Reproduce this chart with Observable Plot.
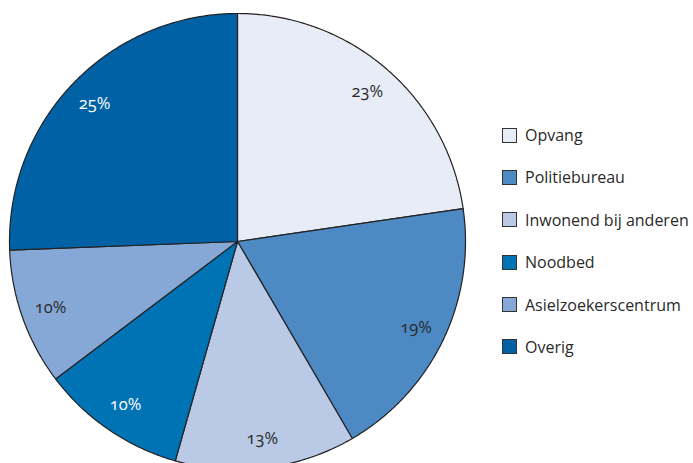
<!DOCTYPE html>
<html><head><meta charset="utf-8">
<script src="https://cdn.jsdelivr.net/npm/d3@7"></script>
<script src="https://cdn.jsdelivr.net/npm/@observablehq/plot@0.6"></script>
<style>
body{margin:0;background:#fff;font-family:"Open Sans",sans-serif;}
#wrap{position:relative;width:693px;height:463px;overflow:hidden;}
#wrap svg text{font-variant-numeric:oldstyle-nums;}
#legend{position:absolute;left:502px;top:125px;}
.item{display:flex;align-items:center;height:20px;margin-bottom:22.4px;font-size:16px;color:#2a2a2a;white-space:nowrap;}
.sw{width:15px;height:15px;border:1px solid #333;box-sizing:border-box;margin-right:8px;flex:none;}
</style></head>
<body><div id="wrap"><div id="legend"></div></div>
<script>
const categories = ["Opvang","Politiebureau","Inwonend bij anderen","Noodbed","Asielzoekerscentrum","Overig"];
const values = [22.7, 18.9, 12.8, 10.3, 9.7, 25.6];
const labels = ["23%","19%","13%","10%","10%","25%"];
const colors = ["#e8ecf7","#4d8ac4","#b9c9e6","#0073b5","#85a8d6","#0061a5"];
const lightLabel = [false,false,false,true,false,true];

const arcs = d3.pie().sort(null).value(d => d)(values);

const pts = [];
arcs.forEach((a, i) => {
  const cat = categories[i];
  pts.push({cat, x: 0, y: 0});
  const n = Math.max(2, Math.ceil((a.endAngle - a.startAngle) / (Math.PI / 360)));
  for (let k = 0; k <= n; k++) {
    const t = a.startAngle + (a.endAngle - a.startAngle) * k / n;
    pts.push({cat, x: Math.sin(t), y: Math.cos(t)});
  }
  pts.push({cat, x: 0, y: 0});
});

const lab = arcs.map((a, i) => {
  const m = (a.startAngle + a.endAngle) / 2;
  return {text: labels[i], x: 0.87 * Math.sin(m), y: 0.87 * Math.cos(m), light: lightLabel[i]};
});

const chart = Plot.plot({
  width: 693, height: 463,
  margin: 0,
  x: {domain: [-1, 1], range: [9, 465], axis: null},
  y: {domain: [-1, 1], range: [469, 13], axis: null},
  color: {domain: categories, range: colors},
  style: {background: "transparent", fontFamily: "Open Sans, sans-serif"},
  marks: [
    Plot.line(pts, {x: "x", y: "y", z: "cat", fill: "cat", stroke: "#222", strokeWidth: 1.2, strokeLinejoin: "round", curve: "linear"}),
    Plot.text(lab.filter(d => !d.light), {x: "x", y: "y", text: "text", fill: "#2a2a2a", fontSize: 16.5}),
    Plot.text(lab.filter(d => d.light), {x: "x", y: "y", text: "text", fill: "#ffffff", fontSize: 16.5})
  ]
});
document.getElementById("wrap").prepend(chart);

const leg = d3.select("#legend");
categories.forEach((c, i) => {
  const it = leg.append("div").attr("class", "item");
  it.append("div").attr("class", "sw").style("background", colors[i]);
  it.append("span").text(c);
});
</script>
</body></html>
